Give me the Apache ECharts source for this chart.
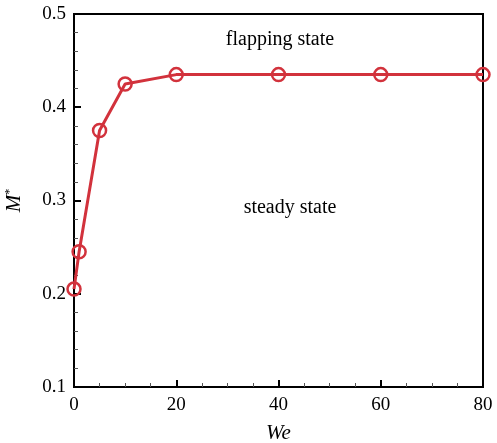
<!DOCTYPE html>
<html><head><meta charset="utf-8">
<script src="https://cdn.jsdelivr.net/npm/echarts@6/dist/echarts.min.js"></script>
<style>html,body{margin:0;padding:0;background:#fff}#c{width:497px;height:443px}</style>
</head><body><div id="c"></div>
<script>
const weValues = [0, 1, 5, 10, 20, 40, 60, 80];
const mValues = [0.205, 0.245, 0.375, 0.425, 0.435, 0.435, 0.435, 0.435];
const xTicks = [0, 20, 40, 60, 80];
const yTicks = [0.1, 0.2, 0.3, 0.4, 0.5];
const annotations = ['flapping state', 'steady state'];

const font = 'Liberation Serif';
const chart = echarts.init(document.getElementById('c'));
chart.setOption({
  animation: false,
  grid: { left: 74, top: 14, right: 14, bottom: 56, outerBoundsMode: 'none', containLabel: false,
          show: true, borderColor: '#000', borderWidth: 2 },
  xAxis: {
    type: 'value', min: xTicks[0], max: xTicks[xTicks.length-1], interval: 20,
    name: 'We', nameLocation: 'middle', nameGap: 36,
    nameTextStyle: { fontFamily: font, fontSize: 21, fontStyle: 'italic', color: '#000' },
    axisLine: { show: true, lineStyle: { color: '#000', width: 2 } },
    axisTick: { show: true, inside: true, length: 7, lineStyle: { color: '#000', width: 2 } },
    minorTick: { show: true, splitNumber: 4, length: 4, lineStyle: { color: '#555', width: 1 } },
    splitLine: { show: false },
    axisLabel: { fontFamily: font, fontSize: 19, color: '#000', margin: 9 }
  },
  yAxis: {
    type: 'value', min: yTicks[0], max: yTicks[yTicks.length-1], interval: 0.1,
    name: '{m|M}{s|*}', nameLocation: 'middle', nameGap: 49,
    nameTextStyle: { color: '#000', rich: {
      m: { fontFamily: font, fontSize: 21, fontStyle: 'italic', color: '#000' },
      s: { fontFamily: font, fontSize: 12, color: '#000', verticalAlign: 'top', padding: [0, 0, 8, 0] }
    } },
    axisLine: { show: true, lineStyle: { color: '#000', width: 2 } },
    axisTick: { show: true, inside: true, length: 7, lineStyle: { color: '#000', width: 2 } },
    minorTick: { show: true, splitNumber: 5, length: 4, lineStyle: { color: '#555', width: 1 } },
    splitLine: { show: false },
    axisLabel: { fontFamily: font, fontSize: 19, color: '#000', margin: 8, formatter: v => v.toFixed(1) }
  },
  graphic: [
    { type: 'text', x: 280, y: 40, style: { text: annotations[0], font: '20px "Liberation Serif"', fill: '#000', textAlign: 'center', textVerticalAlign: 'middle' } },
    { type: 'text', x: 290, y: 208, style: { text: annotations[1], font: '20px "Liberation Serif"', fill: '#000', textAlign: 'center', textVerticalAlign: 'middle' } }
  ],
  series: [{
    type: 'line',
    data: weValues.map((x, i) => [x, mValues[i]]),
    symbol: 'circle', symbolSize: 13,
    lineStyle: { color: '#d2323c', width: 3 },
    itemStyle: { color: 'rgba(0,0,0,0)', borderColor: '#d2323c', borderWidth: 2.5 }
  }]
});
</script></body></html>
